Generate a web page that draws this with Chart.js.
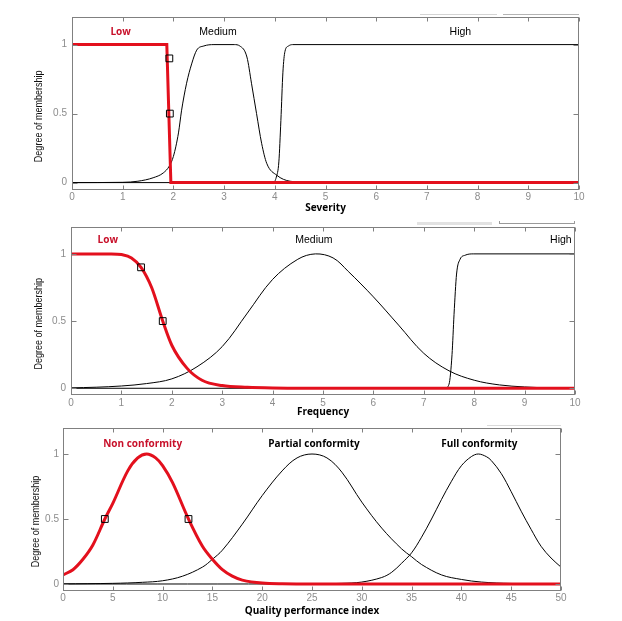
<!DOCTYPE html>
<html lang="en">
<head>
<meta charset="UTF-8">
<title>Membership functions</title>
<script src="https://cdn.jsdelivr.net/npm/chart.js"></script>
<style>
  html, body { margin: 0; padding: 0; background: #fff; }
  body { width: 622px; height: 621px; position: relative; overflow: hidden; }
  .box { position: absolute; left: 0; width: 622px; }
  .mark { position: absolute; box-sizing: border-box; }
</style>
</head>
<body>
  <div class="box" style="top:0;height:218px"><canvas id="c1" width="622" height="218"></canvas></div>
  <div class="box" style="top:214px;height:206px"><canvas id="c2" width="622" height="206"></canvas></div>
  <div class="box" style="top:418px;height:203px"><canvas id="c3" width="622" height="203"></canvas></div>

  <!-- grey scraps left over in the source image -->
  <div class="mark" style="top:14px;left:420px;width:77px;border-top:1px solid #d4d4d4"></div>
  <div class="mark" style="top:14px;left:503px;width:76px;border-top:1px solid #b4b4b4"></div>
  <div class="mark" style="top:222px;left:417px;width:75px;height:3px;background:#e2e2e2"></div>
  <div class="mark" style="top:221px;left:499px;width:76px;height:3px;border:1px solid #9a9a9a;border-top:none"></div>
  <div class="mark" style="top:425px;left:487px;width:74px;border-top:1px solid #dadada"></div>

<script>
// ---- data: [x, degree of membership] ----
const yTicks = [0, 0.5, 1];

// Severity
const sevNames = ['Low', 'Medium', 'High'];
const sevLow = [[0, 1], [1.87, 1], [1.95, 0], [10, 0]];
const sevMedium = [[0, 0], [1, 0.002], [1.3, 0.01], [1.6, 0.035], [1.8, 0.07], [1.92, 0.12], [2.0, 0.19],
  [2.1, 0.36], [2.16, 0.52], [2.26, 0.72], [2.36, 0.86], [2.46, 0.96], [2.6, 0.99], [2.8, 1], [3.2, 1],
  [3.31, 0.99], [3.45, 0.91], [3.54, 0.72], [3.64, 0.5], [3.74, 0.285], [3.84, 0.14], [4.04, 0.053],
  [4.3, 0.01], [4.7, 0.002], [5, 0], [10, 0]];
const sevHigh = [[0, 0], [3.97, 0], [4.03, 0.04], [4.08, 0.15], [4.12, 0.45], [4.16, 0.8], [4.2, 0.95],
  [4.27, 0.99], [4.35, 1], [10, 1]];
const sevMarks = [[1.92, 0.9], [1.93, 0.5]];

// Frequency
const freqNames = ['Low', 'Medium', 'High'];
const freqLow = [[0, 1], [0.8, 1], [1.0, 0.995], [1.2, 0.97], [1.39, 0.9], [1.6, 0.75], [1.82, 0.5],
  [2, 0.32], [2.3, 0.15], [2.6, 0.06], [3, 0.02], [3.5, 0.007], [4, 0.002], [5, 0], [10, 0]];
const freqMedium = [[0, 0.003], [0.5, 0.008], [1, 0.017], [1.5, 0.035], [2, 0.07], [2.5, 0.16], [3, 0.31],
  [3.5, 0.56], [4, 0.81], [4.5, 0.96], [4.85, 1], [5.2, 0.97], [5.5, 0.87], [6, 0.68], [6.5, 0.47],
  [7, 0.26], [7.5, 0.13], [8, 0.06], [8.5, 0.025], [9, 0.01], [9.5, 0.003], [10, 0.001]];
const freqHigh = [[0, 0], [7.42, 0], [7.5, 0.03], [7.56, 0.25], [7.6, 0.55], [7.65, 0.85], [7.72, 0.96],
  [7.82, 0.99], [7.98, 1], [10, 1]];
const freqMarks = [[1.39, 0.9], [1.82, 0.5]];

// Quality performance index
const qpiNames = ['Non conformity', 'Partial conformity', 'Full conformity'];
const qpiNon = [[0, 0.07], [1, 0.11], [2, 0.19], [3, 0.3], [4.2, 0.5], [5, 0.62], [6.5, 0.87], [7.5, 0.97],
  [8.4, 1], [9.3, 0.97], [10, 0.91], [11, 0.78], [12.6, 0.5], [14, 0.29], [15, 0.19], [16, 0.11],
  [17, 0.06], [18, 0.03], [20, 0.007], [22, 0.001], [25, 0], [50, 0]];
const qpiPartial = [[0, 0.001], [5, 0.005], [8, 0.013], [10, 0.025], [12, 0.06], [14, 0.13], [15, 0.19],
  [16, 0.26], [18, 0.46], [20, 0.68], [22, 0.87], [23.5, 0.97], [25, 1], [26.5, 0.97], [28, 0.86],
  [30, 0.63], [32, 0.43], [34, 0.27], [35, 0.21], [36, 0.15], [38, 0.07], [40, 0.035], [42, 0.015],
  [45, 0.004], [50, 0]];
const qpiFull = [[0, 0], [25, 0.001], [28, 0.005], [30, 0.015], [32, 0.05], [33, 0.09], [34, 0.16],
  [35, 0.24], [36, 0.36], [37, 0.5], [38, 0.65], [39, 0.79], [40, 0.91], [41, 0.98], [41.7, 1],
  [42.5, 0.98], [43, 0.95], [44, 0.85], [45, 0.71], [46, 0.56], [47, 0.42], [48, 0.29], [49, 0.2],
  [50, 0.13]];
const qpiMarks = [[4.2, 0.5], [12.6, 0.5]];

const RED = '#e3101d';
const RED_TEXT = '#c8102a';
const FRAME = '#808080';
const TICK_TEXT = '#8c8c8c';

const pts = arr => arr.map(p => ({ x: p[0], y: p[1] }));

// box, inward ticks, curve names and the y title (placed with the chart's own scales)
const framePlugin = {
  id: 'frame',
  afterDraw(chart, args, o) {
    const { ctx, chartArea: a, scales: { x, y } } = chart;
    ctx.save();
    ctx.strokeStyle = FRAME;
    ctx.lineWidth = 1;
    const L = Math.round(a.left) + 0.5, R = Math.round(a.right) - 0.5;
    const T = Math.round(a.top) + 0.5, B = Math.round(a.bottom) - 0.5;
    ctx.strokeRect(L, T, R - L, B - T);
    ctx.beginPath();
    x.ticks.forEach(t => {
      const px = Math.round(x.getPixelForValue(t.value)) + 0.5;
      ctx.moveTo(px, B); ctx.lineTo(px, B - 4);
      ctx.moveTo(px, T); ctx.lineTo(px, T + 4);
    });
    y.ticks.forEach(t => {
      const py = Math.round(y.getPixelForValue(t.value)) + 0.5;
      ctx.moveTo(L, py); ctx.lineTo(L + 5, py);
      ctx.moveTo(R, py); ctx.lineTo(R - 5, py);
    });
    ctx.stroke();

    ctx.textAlign = 'center';
    ctx.textBaseline = 'middle';
    o.names.forEach((n, i) => {
      ctx.font = o.fonts[i];
      ctx.fillStyle = o.colors[i];
      ctx.fillText(n, x.getPixelForValue(o.nameX[i]), y.getPixelForValue(o.nameY));
    });

    ctx.translate(o.titleX, y.getPixelForValue(0.48));
    ctx.rotate(-Math.PI / 2);
    ctx.scale(0.9, 1);
    ctx.font = '10px "Liberation Sans", Arial, sans-serif';
    ctx.fillStyle = '#111';
    ctx.fillText('Degree of membership', 0, 0);
    ctx.restore();
  }
};

function makeChart(id, cfg) {
  const curve = (data, color, width, mode) => ({
    data: pts(data), borderColor: color, borderWidth: width, pointRadius: 0, fill: false,
    cubicInterpolationMode: mode === 'mono' ? 'monotone' : 'default',
    tension: mode === 'bez' ? 0.35 : 0
  });
  const datasets = [
    {
      type: 'scatter', data: pts(cfg.marks), pointStyle: 'rect', pointRadius: 4.8,
      borderColor: '#000', borderWidth: 1, backgroundColor: 'rgba(0,0,0,0)'
    },
    curve(cfg.series[0], RED, 3, cfg.modes[0]),
    curve(cfg.series[1], '#000', 1, cfg.modes[1]),
    curve(cfg.series[2], '#000', 1, cfg.modes[2])
  ];
  return new Chart(document.getElementById(id), {
    type: 'line',
    data: { datasets },
    plugins: [framePlugin],
    options: {
      responsive: false,
      animation: false,
      events: [],
      layout: { padding: { top: cfg.padTop, right: cfg.padRight, left: 0, bottom: 0 } },
      plugins: {
        legend: { display: false },
        tooltip: { enabled: false },
        frame: {
          names: cfg.names, nameX: cfg.nameX, nameY: cfg.nameY,
          colors: cfg.nameColors, fonts: cfg.nameFonts, titleX: cfg.titleX
        }
      },
      scales: {
        x: {
          type: 'linear', min: 0, max: cfg.xMax,
          grid: { display: false, drawTicks: false }, border: { display: false },
          ticks: {
            stepSize: cfg.xStep, padding: 2, color: TICK_TEXT,
            font: { family: '"Liberation Sans", Arial, sans-serif', size: 10 }
          },
          title: {
            display: true, text: cfg.xTitle, color: '#000',
            font: { family: '"Open Sans", "Noto Sans", sans-serif', size: 10, weight: 'bold' },
            padding: { top: 0, bottom: cfg.titlePad }
          },
          afterFit: s => { s.height = cfg.xAxisH; }
        },
        y: {
          type: 'linear', min: -0.05, max: 1.2,
          grid: { display: false, drawTicks: false }, border: { display: false },
          ticks: {
            padding: cfg.yPad, color: TICK_TEXT, callback: v => String(v),
            font: { family: '"Liberation Sans", Arial, sans-serif', size: 10 }
          },
          afterBuildTicks: s => { s.ticks = yTicks.map(v => ({ value: v })); },
          afterFit: s => { s.width = cfg.left; }
        }
      }
    }
  });
}

const boldName = 'bold 10px "Open Sans", "Noto Sans", sans-serif';
const plainName = '10.5px "Liberation Sans", Arial, sans-serif';

makeChart('c1', {
  series: [sevLow, sevMedium, sevHigh], modes: ['step', 'mono', 'mono'], marks: sevMarks,
  names: sevNames, nameX: [0.96, 2.88, 7.66], nameY: 1.09,
  nameColors: [RED_TEXT, '#000', '#000'], nameFonts: [boldName, plainName, plainName],
  xMax: 10, xStep: 1, xTitle: 'Severity',
  padTop: 17, padRight: 43, left: 72, xAxisH: 28.5, titlePad: 3.6, yPad: 5, titleX: 39
});

makeChart('c2', {
  series: [freqLow, freqMedium, freqHigh], modes: ['mono', 'bez', 'mono'], marks: freqMarks,
  names: freqNames, nameX: [0.73, 4.82, 9.72], nameY: 1.1,
  nameColors: [RED_TEXT, '#000', '#000'], nameFonts: [boldName, plainName, plainName],
  xMax: 10, xStep: 1, xTitle: 'Frequency',
  padTop: 13, padRight: 47, left: 71, xAxisH: 25, titlePad: 1.6, yPad: 5, titleX: 39.5
});

makeChart('c3', {
  series: [qpiNon, qpiPartial, qpiFull], modes: ['bez', 'bez', 'bez'], marks: qpiMarks,
  names: qpiNames, nameX: [8.0, 25.2, 41.8], nameY: 1.075,
  nameColors: [RED_TEXT, '#000', '#000'], nameFonts: [boldName, boldName, boldName],
  xMax: 50, xStep: 5, xTitle: 'Quality performance index',
  padTop: 9, padRight: 61, left: 63, xAxisH: 30.5, titlePad: 3.6, yPad: 4, titleX: 36
});
</script>
</body>
</html>
